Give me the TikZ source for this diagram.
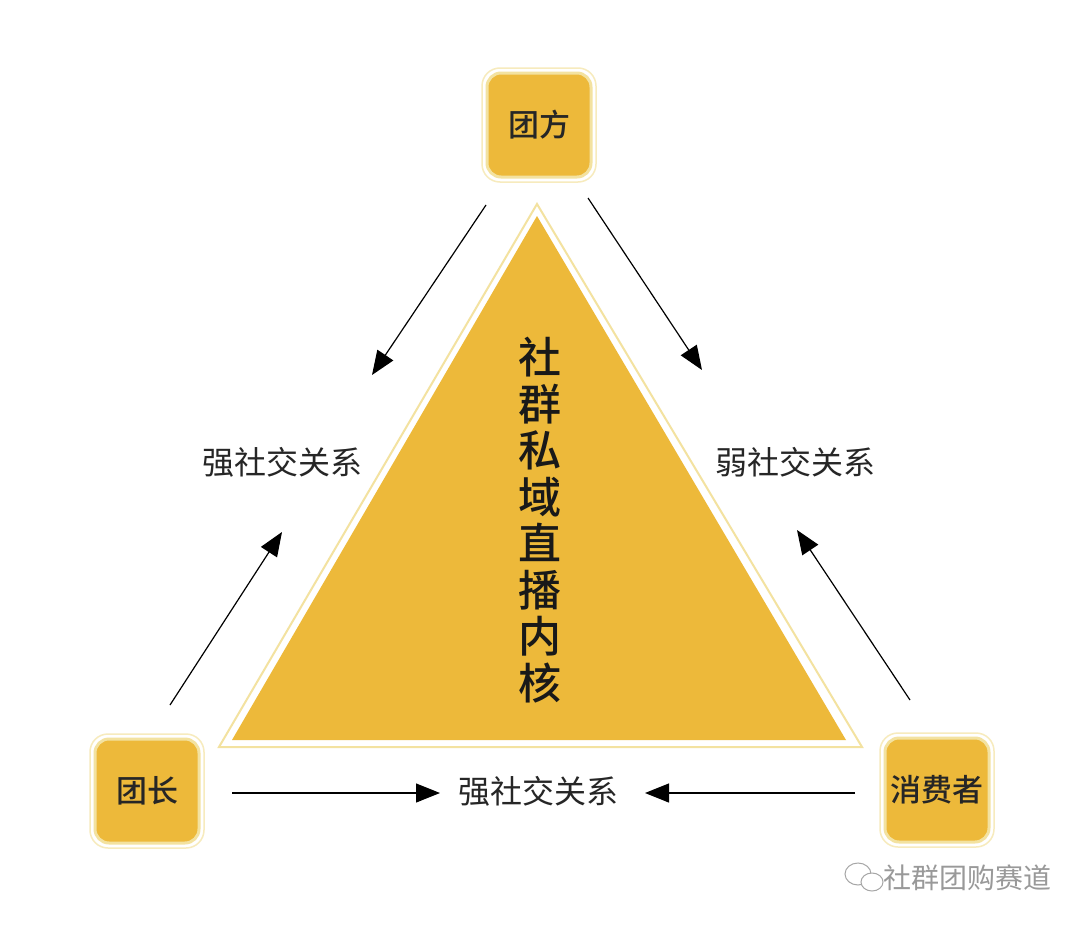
\documentclass[tikz,border=0pt]{standalone}
\usepackage{fontspec}
\setmainfont{Noto Sans CJK SC}
\newfontfamily\cjkb{Noto Sans CJK SC Medium}
\usetikzlibrary{arrows.meta}
\definecolor{gold}{HTML}{EDB93A}
\definecolor{cream}{HTML}{F3E2A0}
\tikzset{
  role/.style={draw=cream,line width=3pt,fill=gold,rounded corners=14pt,minimum width=104pt,minimum height=104pt,font=\cjkb\fontsize{31pt}{31pt}\selectfont\color{black!85}},
  roleouter/.style={draw=cream!70,line width=1.5pt,rounded corners=18pt,minimum width=114pt,minimum height=114pt},
  rel/.style={-{Triangle[length=24pt,width=19pt]},line width=1.2pt},
  lbl/.style={font=\fontsize{32pt}{32pt}\selectfont,text=black!85}
}
\begin{document}
\begin{tikzpicture}[x=1pt,y=-1pt]
\useasboundingbox (0,0) rectangle (1080,926);
\fill[white] (0,0) rectangle (1080,926);
% triangle
\draw[cream,line width=2pt] (537,204) -- (862,747) -- (219,747) -- cycle;
\fill[gold] (537,216) -- (846,740) -- (232,740) -- cycle;
\node[font=\cjkb\fontsize{43pt}{46.5pt}\selectfont,align=center,text=black!90] (core) at (540,520) {社\\群\\私\\域\\直\\播\\内\\核};
% boxes
\node[roleouter] at (539,125) {};
\node[role] (tf) at (539,125) {团方};
\node[roleouter] at (147,791) {};
\node[role] (tz) at (147,791) {团长};
\node[roleouter] at (937,790) {};
\node[role] (xf) at (937,790) {消费者};
% labels
\node[lbl] (l1) at (282,462) {强社交关系};
\node[lbl] (l2) at (795,462) {弱社交关系};
\node[lbl] (l3) at (538,791) {强社交关系};
% arrows
\coordinate (a1) at (486,205); \coordinate (b1) at (372,375);
\coordinate (a2) at (588,198); \coordinate (b2) at (702,370);
\coordinate (a3) at (170,705); \coordinate (b3) at (282,532);
\coordinate (a4) at (910,700); \coordinate (b4) at (797,530);
\coordinate (a5) at (232,793); \coordinate (b5) at (440,793);
\coordinate (a6) at (855,793); \coordinate (b6) at (645,793);
\draw[rel] (a1) -- (b1);
\draw[rel] (a2) -- (b2);
\draw[rel] (a3) -- (b3);
\draw[rel] (a4) -- (b4);
\draw[rel] (a5) -- (b5);
\draw[rel] (a6) -- (b6);
% watermark
\draw[gray!70,line width=1pt] (858,874) ellipse (13 and 11);
\draw[gray!70,line width=1pt,fill=white] (872,882) ellipse (11 and 9);
\node[font=\fontsize{28pt}{28pt}\selectfont,text=gray!80,anchor=west] (wm) at (880,878) {社群团购赛道};
\end{tikzpicture}
\end{document}
